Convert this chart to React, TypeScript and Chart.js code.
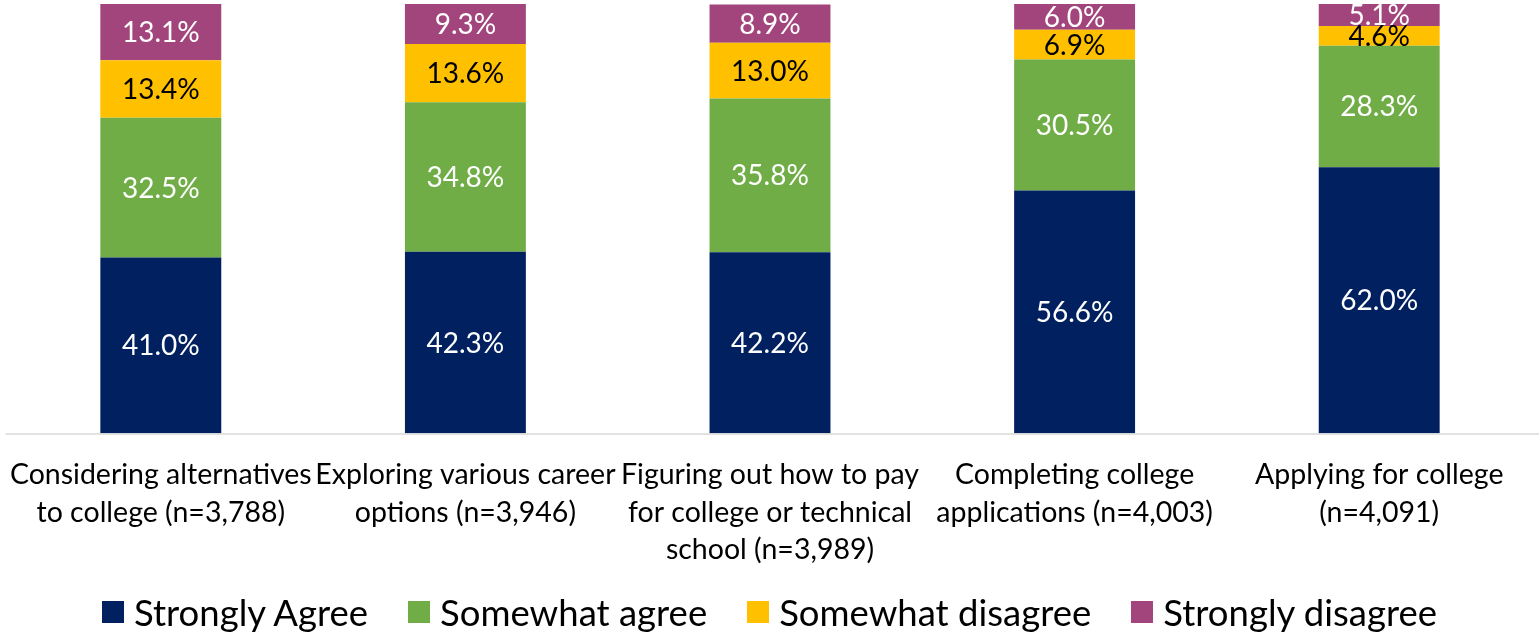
import React, { useEffect, useRef } from "react";
import { Chart, registerables } from "chart.js";

Chart.register(...registerables);

const categories: string[][] = [
  ["Considering alternatives", "to college (n=3,788)"],
  ["Exploring various career", "options (n=3,946)"],
  ["Figuring out how to pay", "for college or technical", "school (n=3,989)"],
  ["Completing college", "applications (n=4,003)"],
  ["Applying for college", "(n=4,091)"],
];

const seriesNames = ["Strongly Agree", "Somewhat agree", "Somewhat disagree", "Strongly disagree"];
const stronglyAgree = [41.0, 42.3, 42.2, 56.6, 62.0];
const somewhatAgree = [32.5, 34.8, 35.8, 30.5, 28.3];
const somewhatDisagree = [13.4, 13.6, 13.0, 6.9, 4.6];
const stronglyDisagree = [13.1, 9.3, 8.9, 6.0, 5.1];
const seriesColors = ["#002060", "#70AD47", "#FFC000", "#A2457C"];
const labelColors = ["#FFFFFF", "#FFFFFF", "#000000", "#FFFFFF"];

const FONT = "Lato, 'Open Sans', sans-serif";

const segLabels = {
  id: "segLabels",
  afterDatasetsDraw(chart: any) {
    const ctx = chart.ctx;
    ctx.save();
    ctx.font = `28px ${FONT}`;
    ctx.textAlign = "center";
    ctx.textBaseline = "middle";
    chart.data.datasets.forEach((ds: any, i: number) => {
      const meta = chart.getDatasetMeta(i);
      meta.data.forEach((bar: any, j: number) => {
        const v = ds.data[j];
        const p = bar.getProps(["x", "y", "base"], true);
        ctx.fillStyle = labelColors[i];
        ctx.fillText(v.toFixed(1) + "%", p.x, (p.y + p.base) / 2 + 1);
      });
    });
    ctx.restore();
  },
};

const axisLine = {
  id: "axisLine",
  afterDatasetsDraw(chart: any) {
    const ctx = chart.ctx;
    const a = chart.chartArea;
    ctx.save();
    ctx.strokeStyle = "#D9D9D9";
    ctx.lineWidth = 1.5;
    ctx.beginPath();
    ctx.moveTo(a.left - 3, a.bottom + 0.5);
    ctx.lineTo(chart.width, a.bottom + 0.5);
    ctx.stroke();
    ctx.restore();
  },
};

export default function App() {
  const ref = useRef<HTMLCanvasElement>(null);
  useEffect(() => {
    document.body.style.margin = "0";
    const values = [stronglyAgree, somewhatAgree, somewhatDisagree, stronglyDisagree];
    const chart = new Chart(ref.current as HTMLCanvasElement, {
      type: "bar",
      data: {
        labels: categories,
        datasets: values.map((d, i) => ({
          label: seriesNames[i],
          data: d,
          backgroundColor: seriesColors[i],
          borderWidth: 0,
          barPercentage: 0.397,
          categoryPercentage: 1,
        })),
      },
      options: {
        responsive: false,
        animation: false,
        layout: { autoPadding: false, padding: { left: 8.5, right: 7.5, top: 4, bottom: 41 } },
        plugins: { legend: { display: false }, tooltip: { enabled: false } },
        scales: {
          x: {
            stacked: true,
            grid: { display: false, drawTicks: false },
            border: { display: false },
            afterFit: (scale: any) => {
              scale.paddingLeft = 0;
              scale.paddingRight = 0;
            },
            ticks: {
              color: "#000000",
              padding: 23,
              maxRotation: 0,
              autoSkip: false,
              font: { family: FONT, size: 28.5, lineHeight: 1.316 },
            },
          },
          y: {
            stacked: true,
            display: false,
            min: 0,
            max: 100,
          },
        },
      },
      plugins: [segLabels, axisLine],
    });
    return () => chart.destroy();
  }, []);

  return (
    <div style={{ position: "relative", width: 1539, height: 633 }}>
      <canvas ref={ref} width={1539} height={633} style={{ display: "block" }} />
      <div
        style={{
          position: "absolute",
          left: 0,
          width: 1539,
          top: 592,
          height: 40,
          display: "flex",
          justifyContent: "center",
          alignItems: "center",
          gap: 40,
          fontFamily: FONT,
          fontSize: 36.5,
          color: "#000",
        }}
      >
        {seriesNames.map((n, i) => (
          <div key={n} style={{ display: "flex", alignItems: "center", gap: 10 }}>
            <span style={{ width: 22, height: 22, background: seriesColors[i], display: "inline-block" }} />
            <span style={{ lineHeight: "40px" }}>{n}</span>
          </div>
        ))}
      </div>
    </div>
  );
}
